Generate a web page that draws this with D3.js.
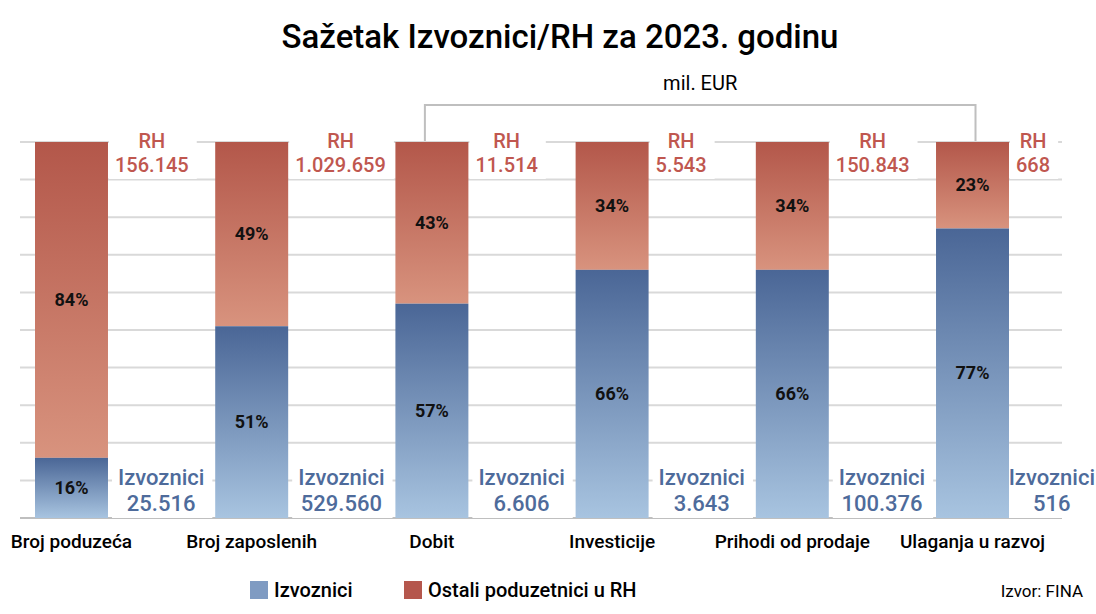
<!DOCTYPE html>
<html>
<head>
<meta charset="utf-8">
<script src="https://cdn.jsdelivr.net/npm/d3@7"></script>
<style>
  body { margin: 0; background: #fff; }
  text { font-family: Roboto, "Noto Sans", sans-serif; }
</style>
</head>
<body>
<div id="chart"></div>
<script>
/* Stacked 100% bars: Izvoznici vs ostali poduzetnici u RH, 2023. */

const categories = ["Broj poduzeća", "Broj zaposlenih", "Dobit", "Investicije", "Prihodi od prodaje", "Ulaganja u razvoj"];
const totalRH = [156145, 1029659, 11514, 5543, 150843, 668];      // RH ukupno
const exporters = [25516, 529560, 6606, 3643, 100376, 516];      // Izvoznici
const expShare = [16, 51, 57, 66, 66, 77];                        // % izvoznici
const otherShare = [84, 49, 43, 34, 34, 23];                      // % ostali
const gridTicks = [0, 10, 20, 30, 40, 50, 60, 70, 80, 90, 100];
const legendItems = ["Izvoznici", "Ostali poduzetnici u RH"];

const width = 1096, height = 614;

const hr = d3.formatLocale({decimal: ",", thousands: ".", grouping: [3], currency: ["", " EUR"]});
const fmt = hr.format(",d");

const data = categories.map((c, i) => ({
  cat: c,
  total: totalRH[i],
  exp: exporters[i],
  share: expShare[i],
  other: otherShare[i]
}));

const x = d3.scaleBand()
  .domain(categories)
  .range([35, 35 + 5 * 180.2 + 73])
  .paddingInner(0.595)
  .paddingOuter(0);

const y = d3.scaleLinear().domain([0, 100]).range([518, 142]);

const svg = d3.select("#chart")
  .append("svg")
  .attr("width", width)
  .attr("height", height);

const defs = svg.append("defs");
const redGrad = defs.append("linearGradient").attr("id", "gRed")
  .attr("x1", 0).attr("x2", 0).attr("y1", 0).attr("y2", 1);
redGrad.append("stop").attr("offset", "0%").attr("stop-color", "#b3574a");
redGrad.append("stop").attr("offset", "100%").attr("stop-color", "#d8937e");
const blueGrad = defs.append("linearGradient").attr("id", "gBlue")
  .attr("x1", 0).attr("x2", 0).attr("y1", 0).attr("y2", 1);
blueGrad.append("stop").attr("offset", "0%").attr("stop-color", "#4a6696");
blueGrad.append("stop").attr("offset", "100%").attr("stop-color", "#a8c4e0");

// title
svg.append("text")
  .attr("x", 560).attr("y", 48)
  .attr("text-anchor", "middle")
  .attr("font-size", 33)
  .attr("font-weight", 500)
  .attr("fill", "#000")
  .text("Sažetak Izvoznici/RH za 2023. godinu");

// grid lines
svg.append("g")
  .selectAll("line")
  .data(gridTicks)
  .join("line")
  .attr("x1", 20).attr("x2", 1062)
  .attr("y1", d => y(d)).attr("y2", d => y(d))
  .attr("stroke", d => d === 0 ? "#bfbfbf" : "#d9d9d9")
  .attr("stroke-width", 2);

// value labels with white boxes (they break the grid lines) -- drawn before bars
const labelLayer = svg.append("g");

// bracket above the money categories
const bx0 = x("Dobit") + x.bandwidth() / 2 - 7;
const bx1 = x("Ulaganja u razvoj") + x.bandwidth() / 2 + 3;
svg.append("path")
  .attr("d", `M${bx0},${y(100) - 1}V105H${bx1}V${y(100) - 1}`)
  .attr("fill", "none")
  .attr("stroke", "#bfbfbf")
  .attr("stroke-width", 2);
svg.append("text")
  .attr("x", (bx0 + bx1) / 2).attr("y", 90)
  .attr("text-anchor", "middle")
  .attr("font-size", 20)
  .attr("fill", "#000")
  .text("mil. EUR");

// bars
const bars = svg.append("g").selectAll("g")
  .data(data)
  .join("g");

bars.append("rect")
  .attr("x", d => x(d.cat))
  .attr("width", x.bandwidth())
  .attr("y", y(100))
  .attr("height", d => y(d.share) - y(100))
  .attr("fill", "url(#gRed)");

bars.append("rect")
  .attr("x", d => x(d.cat))
  .attr("width", x.bandwidth())
  .attr("y", d => y(d.share))
  .attr("height", d => y(0) - y(d.share))
  .attr("fill", "url(#gBlue)");

// percentages inside bars
bars.append("text")
  .attr("x", d => x(d.cat) + x.bandwidth() / 2)
  .attr("y", d => (y(100) + y(d.share)) / 2 + 6)
  .attr("text-anchor", "middle")
  .attr("font-size", 18)
  .attr("font-weight", 700)
  .attr("fill", "#111")
  .text(d => d.other + "%");

bars.append("text")
  .attr("x", d => x(d.cat) + x.bandwidth() / 2)
  .attr("y", d => (y(0) + y(d.share)) / 2 + 6)
  .attr("text-anchor", "middle")
  .attr("font-size", 18)
  .attr("font-weight", 700)
  .attr("fill", "#111")
  .text(d => d.share + "%");

// two-line label block starting just right of the bar, lines centred in the block
function boxedLabel(left, lines, y0, size, color) {
  const g = labelLayer.append("g");
  const box = g.append("rect").attr("fill", "#fff");
  const t = g.append("text")
    .attr("text-anchor", "middle")
    .attr("font-size", size)
    .attr("font-weight", 500)
    .attr("fill", color);
  const spans = lines.map((l, i) =>
    t.append("tspan").attr("y", y0 + i * (size + 4)).text(l));
  const w = d3.max(spans, s => s.node().getComputedTextLength());
  let cx = left + w / 2;
  if (cx + w / 2 > width - 1) cx = width - 1 - w / 2;
  spans.forEach(s => s.attr("x", cx));
  const bb = t.node().getBBox();
  box.attr("x", bb.x - 6).attr("y", bb.y - 2)
    .attr("width", bb.width + 14).attr("height", bb.height + 4);
}

data.forEach(d => {
  const right = x(d.cat) + x.bandwidth();
  boxedLabel(right + 7, ["RH", fmt(d.total)], 148, 20, "#c0574f");
  boxedLabel(right + 10, ["Izvoznici", fmt(d.exp)], 485, 22, "#4e6b9b");
});

// category labels
svg.append("g")
  .selectAll("text")
  .data(categories)
  .join("text")
  .attr("x", d => x(d) + x.bandwidth() / 2)
  .attr("y", 548)
  .attr("text-anchor", "middle")
  .attr("font-size", 19)
  .attr("font-weight", 500)
  .attr("fill", "#000")
  .text(d => d);

// legend
const legendX = [250, 404];
const legendColors = ["#7f9bc2", "#b5574d"];
const legend = svg.append("g").selectAll("g")
  .data(legendItems)
  .join("g")
  .attr("transform", (d, i) => `translate(${legendX[i]},581)`);
legend.append("rect")
  .attr("width", 18).attr("height", 18)
  .attr("fill", (d, i) => legendColors[i]);
legend.append("text")
  .attr("x", 24).attr("y", 16)
  .attr("font-size", 20)
  .attr("font-weight", 500)
  .attr("fill", "#000")
  .text(d => d);

svg.append("text")
  .attr("x", 1083).attr("y", 597)
  .attr("text-anchor", "end")
  .attr("font-size", 17)
  .attr("fill", "#000")
  .text("Izvor: FINA");
</script>
</body>
</html>
